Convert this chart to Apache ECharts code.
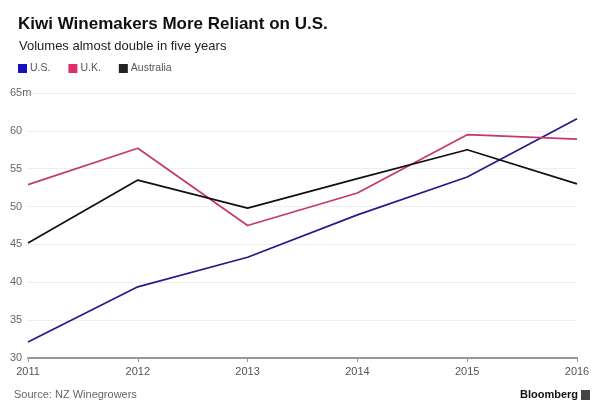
<!DOCTYPE html>
<html><head><meta charset="utf-8">
<script src="https://cdn.jsdelivr.net/npm/echarts@6/dist/echarts.min.js"></script>
<style>html,body{margin:0;padding:0;background:#fff}#c{width:600px;height:417px}</style>
</head><body><div id="c"></div>
<script>
const years = ['2011','2012','2013','2014','2015','2016'];
const us = [32.1, 39.4, 43.3, 48.9, 53.9, 61.6];
const uk = [52.9, 57.7, 47.5, 51.8, 59.5, 58.9];
const australia = [45.2, 53.5, 49.8, 53.7, 57.5, 53.0];
const yTicks = [30, 35, 40, 45, 50, 55, 60, 65];

const chart = echarts.init(document.getElementById('c'), null, {renderer: 'canvas'});
const font = '"Liberation Sans", Arial, Helvetica, sans-serif';
chart.setOption({
  backgroundColor: '#fff',
  textStyle: {fontFamily: font},
  animation: false,
  title: [
    {text: 'Kiwi Winemakers More Reliant on U.S.', left: 13, top: 11,
     textStyle: {fontSize: 17, fontWeight: 'bold', color: '#111', fontFamily: font}},
    {text: 'Volumes almost double in five years', left: 14, top: 35,
     textStyle: {fontSize: 13, fontWeight: 'normal', color: '#222', fontFamily: font}}
  ],
  legend: {
    left: 13, top: 58, itemWidth: 9, itemHeight: 9, itemGap: 18, icon: 'rect',
    textStyle: {fontSize: 10.5, color: '#555', padding: [0,0,0,-2]},
    data: [
      {name: 'U.S.', itemStyle: {color: '#1a12b8'}},
      {name: 'U.K.', itemStyle: {color: '#e0306a'}},
      {name: 'Australia', itemStyle: {color: '#222'}}
    ]
  },
  grid: {left: 28, right: 23, top: 93, bottom: 59, containLabel: false},
  xAxis: {
    type: 'category', data: years, boundaryGap: false,
    axisLine: {lineStyle: {color: '#999', width: 2}},
    axisTick: {show: true, length: 4, lineStyle: {color: '#999'}},
    axisLabel: {color: '#555', fontSize: 11, margin: 8}
  },
  yAxis: {
    type: 'value', min: yTicks[0], max: yTicks[yTicks.length-1], interval: 5,
    axisLine: {show: false}, axisTick: {show: false},
    splitLine: {lineStyle: {color: '#eee', width: 1}},
    axisLabel: {color: '#666', fontSize: 11, align: 'left', margin: 18,
      formatter: v => v === 65 ? '65m' : String(v)}
  },
  series: [
    {name: 'U.S.', type: 'line', data: us, symbol: 'none', lineStyle: {color: '#231c8c', width: 1.7}, itemStyle: {color: '#1a12b8'}},
    {name: 'U.K.', type: 'line', data: uk, symbol: 'none', lineStyle: {color: '#c4386e', width: 1.7}, itemStyle: {color: '#e0306a'}},
    {name: 'Australia', type: 'line', data: australia, symbol: 'none', lineStyle: {color: '#111', width: 1.7}, itemStyle: {color: '#222'}}
  ],
  graphic: [
    {type: 'text', left: 14, top: 389, style: {text: 'Source: NZ Winegrowers', fill: '#666', font: '11px ' + font}},
    {type: 'text', right: 22, top: 389, style: {text: 'Bloomberg', fill: '#111', font: 'bold 11px ' + font}},
    {type: 'rect', right: 10, top: 390, shape: {width: 9, height: 10}, style: {fill: '#444'}}
  ]
});
</script></body></html>
